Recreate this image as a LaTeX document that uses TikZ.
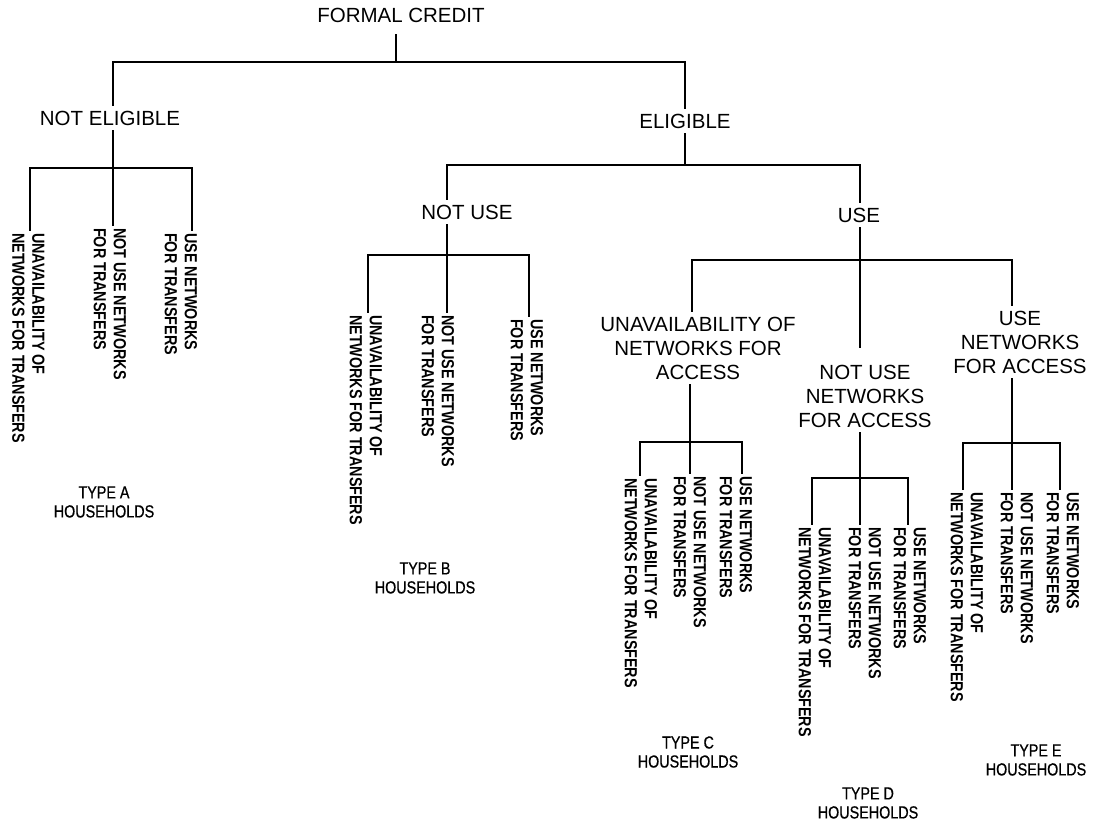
\documentclass[tikz,border=0pt]{standalone}
\usepackage{fontspec}
\newfontfamily\mainf{Liberation Sans}
\newfontfamily\narrowf[FakeStretch=0.82]{Liberation Sans}
\newfontfamily\typef[FakeStretch=0.82,FakeBold=0.6]{Liberation Sans}
\begin{document}
\begin{tikzpicture}[x=1pt,y=-1pt]
\tikzset{
 main/.style={font=\mainf\fontsize{20.5}{24}\selectfont, align=center, inner sep=5pt},
 leaf/.style={font=\narrowf\bfseries\fontsize{17.5}{20}\selectfont, rotate=-90, anchor=west, align=left, inner sep=2pt},
 typel/.style={font=\typef\fontsize{17.5}{19}\selectfont, align=center, inner sep=1pt},
 conn/.style={line width=1.4pt, black}
}
\useasboundingbox (0,0) rectangle (1095,825);
% main nodes
\node[main] (fc) at (401,15) {FORMAL CREDIT};
\node[main] (ne) at (110,118) {NOT ELIGIBLE};
\node[main] (el) at (685,121) {ELIGIBLE};
\node[main] (nu) at (467,212) {NOT USE};
\node[main] (use) at (859,215) {USE};
\node[main] (ua) at (698,348) {UNAVAILABILITY OF\\NETWORKS FOR\\ACCESS};
\node[main] (nua) at (865,396) {NOT USE\\NETWORKS\\FOR ACCESS};
\node[main] (usa) at (1020,342) {USE\\NETWORKS\\FOR ACCESS};
% leaves
\node[leaf] (ne1) at (28.5,231) {UNAVAILABILITY OF\\NETWORKS FOR TRANSFERS};
\node[leaf] (ne2) at (110,226) {NOT USE NETWORKS\\FOR TRANSFERS};
\node[leaf] (ne3) at (181,231) {USE NETWORKS\\FOR TRANSFERS};
\node[leaf] (nu1) at (366,313) {UNAVAILABILITY OF\\NETWORKS FOR TRANSFERS};
\node[leaf] (nu2) at (438,313) {NOT USE NETWORKS\\FOR TRANSFERS};
\node[leaf] (nu3) at (527,317) {USE NETWORKS\\FOR TRANSFERS};
\node[leaf] (ua1) at (641,476) {UNAVAILABILITY OF\\NETWORKS FOR TRANSFERS};
\node[leaf] (ua2) at (690,474) {NOT USE NETWORKS\\FOR TRANSFERS};
\node[leaf] (ua3) at (736,474) {USE NETWORKS\\FOR TRANSFERS};
\node[leaf] (nua1) at (815,525) {UNAVAILABILITY OF\\NETWORKS FOR TRANSFERS};
\node[leaf] (nua2) at (865,525) {NOT USE NETWORKS\\FOR TRANSFERS};
\node[leaf] (nua3) at (910,525) {USE NETWORKS\\FOR TRANSFERS};
\node[leaf] (usa1) at (967,490) {UNAVAILABILITY OF\\NETWORKS FOR TRANSFERS};
\node[leaf] (usa2) at (1017,490) {NOT USE NETWORKS\\FOR TRANSFERS};
\node[leaf] (usa3) at (1063,490) {USE NETWORKS\\FOR TRANSFERS};
% type labels
\node[typel] (ta) at (104,502) {TYPE A\\HOUSEHOLDS};
\node[typel] (tb) at (425,578) {TYPE B\\HOUSEHOLDS};
\node[typel] (tc) at (688,752) {TYPE C\\HOUSEHOLDS};
\node[typel] (td) at (868,803) {TYPE D\\HOUSEHOLDS};
\node[typel] (te) at (1036,760) {TYPE E\\HOUSEHOLDS};
% connectors
\draw[conn] ([xshift=-5pt,yshift=-7pt]fc.south) -- ++(0,27.5) -| ([xshift=3pt]ne.north);
\draw[conn] ([xshift=-5pt,yshift=-7pt]fc.south) -- ++(0,27.5) -| (el.north);
\draw[conn] ([xshift=3pt]ne.south) -- ++(0,37.5) -| ([xshift=1.5pt]ne1.west);
\draw[conn] ([xshift=3pt]ne.south) -- ++(0,37.5) -| ([xshift=3pt]ne2.west);
\draw[conn] ([xshift=3pt]ne.south) -- ++(0,37.5) -| ([xshift=11pt]ne3.west);
\draw[conn] (el.south) -- ++(0,31.5) -| ([xshift=-20pt]nu.north);
\draw[conn] (el.south) -- ++(0,31.5) -| ([xshift=1pt]use.north);
\draw[conn] ([xshift=-20pt]nu.south) -- ++(0,30.5) -| ([xshift=2pt]nu1.west);
\draw[conn] ([xshift=-20pt]nu.south) -- ++(0,30.5) -| ([xshift=9pt]nu2.west);
\draw[conn] ([xshift=-20pt]nu.south) -- ++(0,30.5) -| ([xshift=2pt]nu3.west);
\draw[conn] ([xshift=1pt]use.south) -- ++(0,32.5) -| ([xshift=-6pt]ua.north);
\draw[conn] ([xshift=1pt]use.south) -- ++(0,32.5) -| ([xshift=-5pt,yshift=12pt]nua.north);
\draw[conn] ([xshift=1pt]use.south) -- ++(0,32.5) -| ([xshift=-8pt]usa.north);
\draw[conn] ([xshift=-8pt]ua.south) -- ++(0,57.5) -| ([xshift=-1pt]ua1.west);
\draw[conn] ([xshift=-8pt]ua.south) -- ++(0,57.5) -| (ua2.west);
\draw[conn] ([xshift=-8pt]ua.south) -- ++(0,57.5) -| ([xshift=6pt]ua3.west);
\draw[conn] ([xshift=-5pt]nua.south) -- ++(0,45.5) -| ([xshift=-3pt]nua1.west);
\draw[conn] ([xshift=-5pt]nua.south) -- ++(0,45.5) -| ([xshift=-5pt]nua2.west);
\draw[conn] ([xshift=-5pt]nua.south) -- ++(0,45.5) -| ([xshift=-2pt]nua3.west);
\draw[conn] ([xshift=-8pt]usa.south) -- ++(0,64.5) -| ([xshift=-4pt]usa1.west);
\draw[conn] ([xshift=-8pt]usa.south) -- ++(0,64.5) -| ([xshift=-5pt]usa2.west);
\draw[conn] ([xshift=-8pt]usa.south) -- ++(0,64.5) -| ([xshift=-3pt]usa3.west);
\end{tikzpicture}
\end{document}
